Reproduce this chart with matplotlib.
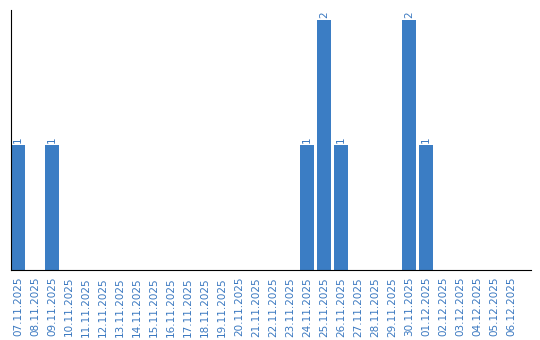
import matplotlib
matplotlib.use("Agg")
import matplotlib.pyplot as plt

dates = ["07.11.2025", "08.11.2025", "09.11.2025", "10.11.2025", "11.11.2025",
         "12.11.2025", "13.11.2025", "14.11.2025", "15.11.2025", "16.11.2025",
         "17.11.2025", "18.11.2025", "19.11.2025", "20.11.2025", "21.11.2025",
         "22.11.2025", "23.11.2025", "24.11.2025", "25.11.2025", "26.11.2025",
         "27.11.2025", "28.11.2025", "29.11.2025", "30.11.2025", "01.12.2025",
         "02.12.2025", "03.12.2025", "04.12.2025", "05.12.2025", "06.12.2025"]
counts = [1, 0, 1, 0, 0, 0, 0, 0, 0, 0,
          0, 0, 0, 0, 0, 0, 0, 1, 2, 1,
          0, 0, 0, 2, 1, 0, 0, 0, 0, 0]

bar_color = "#3b7dc4"
text_color = "#3a78c0"

fig = plt.figure(figsize=(5.4, 3.4), dpi=100)
ax = fig.add_axes([11 / 540, 70 / 340, 520 / 540, 260 / 340])

x = list(range(len(dates)))
ax.bar(x, counts, width=0.82, color=bar_color)

for xi, c in zip(x, counts):
    if c > 0:
        ax.text(xi, c + 0.02, str(c), rotation=90, ha="center", va="bottom",
                fontsize=7.5, color=text_color)

ax.set_xticks(x)
ax.set_xticklabels(dates, rotation=90, fontsize=7.5, color=text_color)
ax.tick_params(axis="x", length=0, pad=5)
ax.set_yticks([])
ax.set_xlim(-0.41, 30.18)
ax.set_ylim(0, 2.08)

for side in ["top", "right"]:
    ax.spines[side].set_visible(False)
ax.spines["left"].set_color("black")
ax.spines["bottom"].set_color("black")

fig.savefig("out.png", dpi=100)
